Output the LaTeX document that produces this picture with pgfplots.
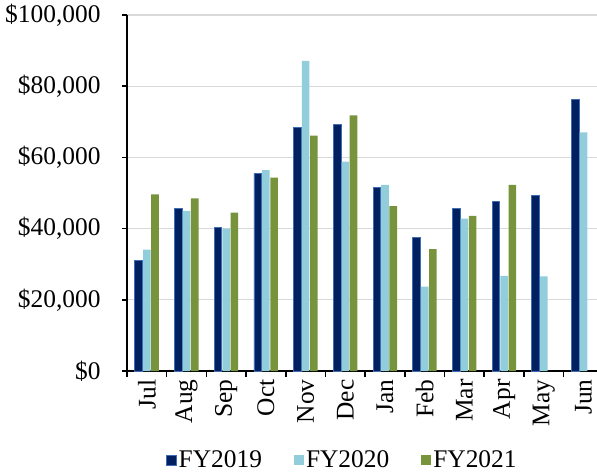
\documentclass[border=0pt]{standalone}
\usepackage{fontspec}
\setmainfont{Liberation Serif}
\usepackage{pgfplots}
\pgfplotsset{compat=1.18}
\definecolor{navy}{HTML}{002060}
\definecolor{navyedge}{HTML}{3E6DB5}
\definecolor{lblue}{HTML}{92CDDC}
\definecolor{olive}{HTML}{77933C}
\begin{document}
\begin{tikzpicture}
\useasboundingbox (0,0) rectangle (597bp,472bp);
\begin{axis}[
  at={(127bp,101bp)}, anchor=south west,
  scale only axis, width=470bp, height=356bp,
  ybar=0.6bp, bar width=7.6bp,
  xmin=-0.5, xmax=11.34, ymin=0, ymax=100000,
  scaled y ticks=false,
  axis x line*=bottom, axis y line*=left,
  axis line style={-, line width=2bp, black},
  xtick={0,...,11},
  xticklabels={Jul,Aug,Sep,Oct,Nov,Dec,Jan,Feb,Mar,Apr,May,Jun},
  major x tick style={draw=none},
  minor xtick={-0.5,0.5,...,11.5},
  minor tick length=6bp,
  minor x tick style={line width=1.6bp, black},
  ytick={0,20000,40000,60000,80000,100000},
  yticklabels={\$0,{\$20,000},{\$40,000},{\$60,000},{\$80,000},{\$100,000}},
  major tick length=5bp,
  tick align=outside,
  major y tick style={line width=1.6bp, black},
  ymajorgrids=true,
  grid style={black!15, line width=1.2bp},
  tick label style={font=\fontsize{25.5}{28}\selectfont},
  x tick label style={rotate=90, anchor=east},
  yticklabel style={xshift=-18bp},
  legend style={at={(0.458,-0.25)}, anchor=center, draw=none, fill=none,
    font=\fontsize{25.5}{28}\selectfont, legend columns=3,
    /tikz/every even column/.append style={column sep=30bp}},
  legend image code/.code={\fill[#1] (0bp,-5bp) rectangle (10bp,5bp);},
  clip=false,
]
\addplot[fill=navy, draw=navyedge, line width=0.8bp] coordinates {
(0,31100) (1,45600) (2,40300) (3,55500) (4,68300) (5,69200)
(6,51500) (7,37400) (8,45600) (9,47600) (10,49200) (11,76300)};
\addplot[fill=lblue, draw=none] coordinates {
(0,34100) (1,45000) (2,40000) (3,56400) (4,87100) (5,58800)
(6,52300) (7,23700) (8,42800) (9,26700) (10,26600) (11,67000)};
\addplot[fill=olive, draw=none] coordinates {
(0,49600) (1,48500) (2,44500) (3,54300) (4,66100) (5,71800)
(6,46300) (7,34200) (8,43600) (9,52300)};
\legend{FY2019,FY2020,FY2021}
\end{axis}
\end{tikzpicture}
\end{document}
